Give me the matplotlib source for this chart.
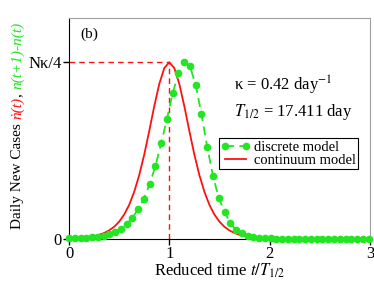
import numpy as np
import matplotlib
matplotlib.use("Agg")
import matplotlib.pyplot as plt
from matplotlib import transforms

plt.rcParams['font.family'] = ['Liberation Serif', 'DejaVu Serif']
plt.rcParams['mathtext.fontset'] = 'stix'

# half time (days) and day index of the discrete model
T_half = 17.411
days = np.arange(53)

# discrete model, daily new cases n(t+1)-n(t), normalised to N*kappa/4
discrete = [0.004, 0.005, 0.006, 0.008, 0.010, 0.013, 0.018, 0.027, 0.040, 0.056,
            0.085, 0.119, 0.169, 0.226, 0.311, 0.412, 0.542, 0.678, 0.825, 0.938,
            1.000, 0.977, 0.870, 0.706, 0.520, 0.356, 0.232, 0.153, 0.090, 0.051,
            0.034, 0.017, 0.011, 0.007, 0.005, 0.003, 0.002, 0.001, 0.001, 0.001,
            0.001, 0.0, 0.0, 0.0, 0.0, 0.0, 0.0, 0.0, 0.0, 0.0,
            0.0, 0.0, 0.0]

# continuum model, read every 0.05 of reduced time
cont_tau = np.round(np.arange(0, 3.001, 0.05), 2)
continuum = [0.0027, 0.0039, 0.0055, 0.008, 0.0115, 0.0165, 0.0237, 0.0339, 0.0485, 0.069,
             0.098, 0.138, 0.193, 0.267, 0.361, 0.477, 0.611, 0.751, 0.877, 0.967,
             1.000, 0.967, 0.877, 0.751, 0.611, 0.477, 0.361, 0.267, 0.193, 0.138,
             0.098, 0.069, 0.0485, 0.0339, 0.0237, 0.0165, 0.0115, 0.008, 0.0055, 0.0039,
             0.0027, 0.0019, 0.0013, 0.0009, 0.0006, 0.0004, 0.0003, 0.0002, 0.0001, 0.0,
             0.0, 0.0, 0.0, 0.0, 0.0, 0.0, 0.0, 0.0, 0.0, 0.0, 0.0]

green = '#22e622'
red = '#ff1010'

fig = plt.figure(figsize=(3.74, 2.84), dpi=100)
ax = fig.add_axes([0.1845, 0.1585, 0.8045, 0.778])

ax.plot([0, 1], [1, 1], color=red, lw=1.0, ls=(0, (4, 3)))
ax.plot([1, 1], [0, 1], color=red, lw=1.0, ls=(0, (4, 3)))
cont_line, = ax.plot(cont_tau, continuum, color=red, lw=1.3, zorder=3)
disc_line, = ax.plot(days / T_half, discrete, color=green, lw=1.3, ls=(0, (5, 3)),
                     marker='o', ms=4.5, zorder=4, clip_on=False)

ax.set_xlim(0, 3)
ax.set_ylim(0, 1.25)
ax.set_xticks([0, 1, 2, 3])
ax.set_xticklabels(['0', '1', '2', '3'])
ax.set_yticks([0, 1])
ax.set_yticklabels(['0', 'N\u03ba/4'])
ax.tick_params(direction='out', length=4, width=1, labelsize=12, pad=1)
for side in ['top', 'right']:
    ax.spines[side].set_color('#a0a0a0')

ax.set_xlabel('Reduced time $t/T_{1/2}$', fontsize=12, labelpad=0)

ax.text(0.2, 1.16, '(b)', fontsize=11, ha='center', va='center')
ax.text(1.65, 0.87, '\u03ba = 0.42 day$^{-1}$', fontsize=12, va='center')
ax.text(1.65, 0.72, '$T_{1/2}$ = 17.411 day', fontsize=12, va='center')

leg = ax.legend([disc_line, cont_line], ['discrete model', 'continuum model'],
                loc='upper left', bbox_to_anchor=(0.497, 0.455), fontsize=10.5,
                frameon=True, fancybox=False, edgecolor='black', framealpha=1,
                handlelength=2.0, handletextpad=0.3, borderpad=0.15,
                labelspacing=0.0, numpoints=2, borderaxespad=0)
leg.get_frame().set_linewidth(0.8)

# multi-coloured y label, stacked upward
renderer = fig.canvas.get_renderer()
pieces = [('Daily New Cases ', 'black', 'normal'),
          ('\u1e45(t)', red, 'italic'),
          (', ', 'black', 'normal'),
          ('n(t+1)-n(t)', green, 'italic')]
t = fig.transFigure
for s, c, st in pieces:
    txt = fig.text(0.056, 0.195, s, color=c, style=st, fontsize=11, rotation=90,
                   rotation_mode='anchor', ha='left', va='baseline', transform=t)
    ex = txt.get_window_extent(renderer)
    t = transforms.offset_copy(txt.get_transform(), x=0, y=ex.height, units='dots')

fig.savefig('out.png', dpi=100)
